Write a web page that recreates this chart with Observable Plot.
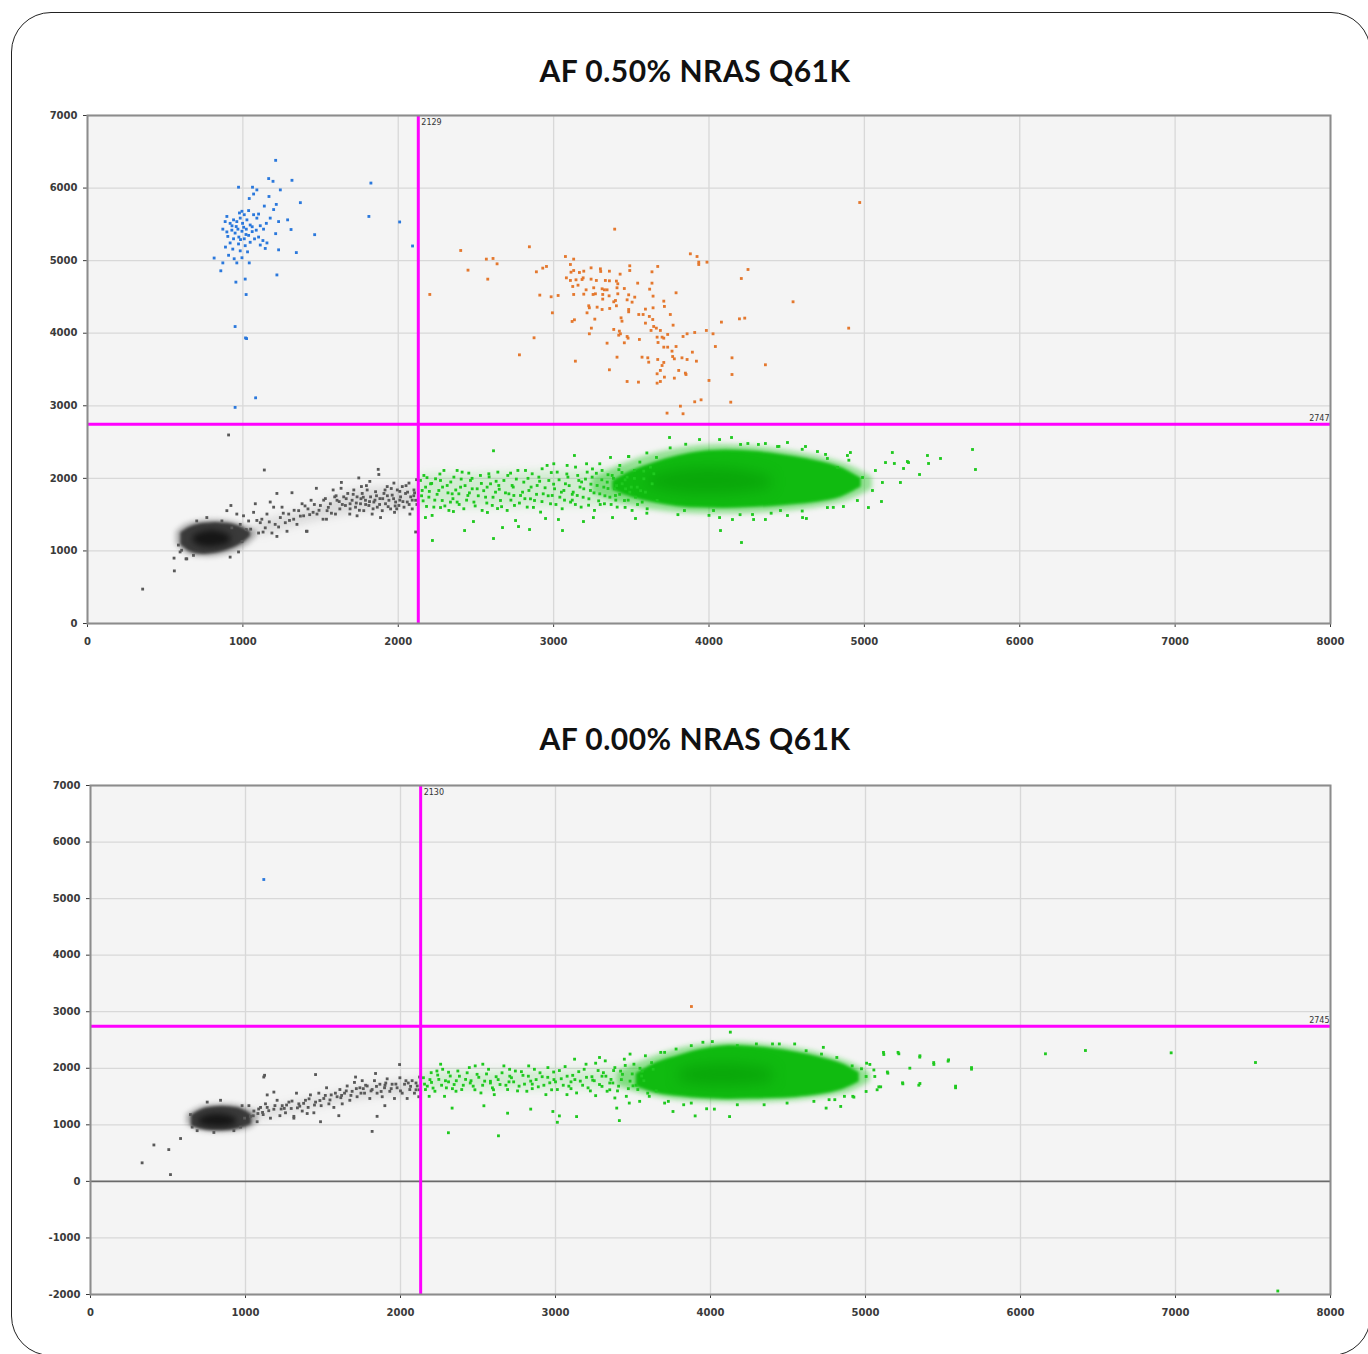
<!DOCTYPE html>
<html><head><meta charset="utf-8">
<script src="https://cdn.jsdelivr.net/npm/d3@7"></script>
<script src="https://cdn.jsdelivr.net/npm/@observablehq/plot@0.6"></script>
<style>
body{margin:0;background:#fff;overflow:hidden}
#page{position:relative;width:1368px;height:1354px;overflow:hidden;background:#fff}
.panel{position:absolute;left:11px;top:12px;width:1360px;height:1344px;border:1.3px solid #222;border-radius:40px;box-sizing:border-box}
.title{position:absolute;left:0;width:1390px;text-align:center;font:700 30px Lato,"Noto Sans",sans-serif;color:#111;letter-spacing:0.5px}
.chart{position:absolute;left:0}
</style></head>
<body><div id="page">
<div class="panel"></div>
<div class="title" style="top:52px">AF 0.50% NRAS Q61K</div>
<div id="c1" class="chart" style="top:100px"></div>
<div class="title" style="top:720px">AF 0.00% NRAS Q61K</div>
<div id="c2" class="chart" style="top:770px"></div>
</div>
<script>
// ---- tick values ----
const xTicks = [0,1000,2000,3000,4000,5000,6000,7000,8000];
const yTicks1 = [0,1000,2000,3000,4000,5000,6000,7000];
const yTicks2 = [-2000,-1000,0,1000,2000,3000,4000,5000,6000,7000];
const titles = ["AF 0.50% NRAS Q61K","AF 0.00% NRAS Q61K"];
// thresholds [x, y]
const thr1 = [2129, 2747];
const thr2 = [2130, 2745];

// ---- Plot 1 : dense cluster envelopes (x, low, high) ----
const p1GrayFringeX  = [570,620,680,750,820,890,960,1030,1090];
const p1GrayFringeLo = [1100,990,930,915,920,950,1000,1080,1200];
const p1GrayFringeHi = [1260,1350,1400,1420,1430,1420,1390,1340,1290];
const p1GrayCoreX  = [600,650,700,750,800,850,900,950,1000,1050];
const p1GrayCoreLo = [1080,1000,960,950,960,980,1010,1050,1110,1200];
const p1GrayCoreHi = [1250,1320,1360,1380,1390,1390,1380,1360,1320,1260];
const p1GrayInX  = [680,740,800,860,920];
const p1GrayInLo = [1120,1060,1050,1070,1110];
const p1GrayInHi = [1200,1260,1280,1260,1210];
const p1GrayTailX  = [1100,1400,1700,2000,2125];
const p1GrayTailLo = [1200,1380,1520,1580,1600];
const p1GrayTailHi = [1400,1560,1820,1880,1900];
const p1GreenFringeX  = [3250,3400,3550,3700,3850,4000,4150,4300,4450,4600,4750,4900,5050];
const p1GreenFringeLo = [1800,1680,1600,1550,1520,1510,1510,1520,1540,1570,1620,1700,1850];
const p1GreenFringeHi = [2000,2150,2280,2370,2430,2460,2460,2440,2400,2350,2280,2180,2020];
const p1GreenCoreX  = [3380,3500,3650,3800,3950,4100,4250,4400,4550,4700,4850,4980];
const p1GreenCoreLo = [1840,1740,1660,1610,1590,1585,1595,1610,1635,1670,1740,1880];
const p1GreenCoreHi = [1960,2100,2220,2310,2370,2390,2380,2350,2300,2240,2150,2000];
const p1GreenInX  = [3600,3800,4000,4200,4400];
const p1GreenInLo = [1900,1800,1780,1800,1870];
const p1GreenInHi = [2000,2120,2150,2120,2020];
const p1GreenTailX  = [2140,2400,2700,3000,3300,3500];
const p1GreenTailLo = [1600,1600,1600,1620,1620,1650];
const p1GreenTailHi = [2050,2060,2080,2100,2120,2150];

// ---- Plot 1 : droplets ----
const p1Blue = [[972,6012],[1062,6012],[1090,5975],[1069,5918],[1041,5856],[1166,6131],[1194,6093],[1241,5975],[1316,6107],[1211,6382],
[1168,5884],[1215,5775],[1370,5799],[1138,5752],[1198,5704],[994,5680],[978,5657],[1009,5633],[1037,5690],[897,5609],
[940,5562],[983,5586],[1026,5562],[1069,5633],[1101,5642],[1090,5586],[1176,5586],[1230,5538],[1288,5562],[886,5538],
[918,5514],[961,5538],[998,5514],[1047,5491],[1112,5481],[1151,5514],[1211,5372],[1310,5429],[1462,5358],[871,5434],
[897,5396],[929,5420],[968,5434],[994,5405],[1022,5434],[1060,5467],[1086,5420],[1133,5434],[903,5334],[940,5301],
[974,5325],[1009,5301],[1037,5348],[1101,5325],[1129,5277],[1155,5244],[918,5244],[972,5230],[1015,5206],[1047,5253],
[1112,5215],[1144,5168],[888,5187],[935,5159],[983,5135],[1030,5121],[1230,5149],[1344,5111],[908,5074],[944,5026],
[994,5040],[1041,4969],[815,5036],[871,4969],[858,4860],[961,4969],[1219,4803],[955,4704],[1015,4746],[1021,4533],
[950,4092],[1017,3935],[1024,3926],[1082,3110],[950,2978],[1824,6069],[1811,5609],[2009,5533],[2092,5202],
[957,5470],[1005,5460],[950,5380],[1020,5360],[985,5290],[1060,5400],[930,5480],[1075,5300]];

const p1Orange = [[3393,5434],[4970,5801],[2402,5140],[2203,4534],[2449,4869],[2567,5021],[2610,5030],[2636,4956],[2576,4745],[2844,5191],
[2889,4846],[2930,4897],[2954,4920],[2911,4525],[2984,4502],[3029,4520],[2992,4281],[2874,3937],[2780,3702],[3140,3615],
[3076,5057],[3129,5021],[3108,4947],[3129,4864],[3112,4841],[3166,4837],[3194,4855],[3241,4901],[3301,4887],[3303,4851],
[3359,4855],[3428,4814],[3490,4929],[3490,4864],[3633,4846],[3670,4920],[3082,4763],[3108,4727],[3144,4736],[3183,4740],
[3190,4763],[3241,4745],[3275,4727],[3333,4727],[3359,4722],[3404,4718],[3413,4681],[3541,4690],[3633,4690],[3123,4644],
[3157,4662],[3209,4598],[3258,4626],[3312,4612],[3327,4598],[3344,4598],[3408,4626],[3455,4616],[3129,4534],[3194,4538],
[3254,4534],[3269,4543],[3316,4534],[3357,4515],[3413,4543],[3483,4529],[3522,4497],[3618,4607],[3640,4511],[3788,4557],
[3316,4470],[3387,4433],[3398,4451],[3473,4460],[3505,4428],[3280,4359],[3226,4378],[3230,4350],[3312,4327],[3361,4341],
[3404,4378],[3483,4327],[3483,4295],[3591,4332],[3640,4350],[3709,4442],[3713,4369],[3215,4281],[3548,4258],[3576,4258],
[3616,4231],[3638,4189],[3751,4258],[3119,4162],[3134,4185],[3265,4194],[3434,4212],[3440,4166],[3591,4139],[3644,4093],
[3661,4070],[3769,4111],[3243,4070],[3387,4052],[3423,4029],[3430,3992],[3419,3973],[3627,4038],[3687,4038],[3698,3946],
[3709,3932],[3734,3983],[3833,3955],[3859,3992],[3908,4010],[3983,4038],[4026,3992],[4196,4198],[4230,4208],[4080,4153],
[4251,4878],[4208,4754],[4541,4433],[4899,4070],[3230,3992],[3473,3955],[3479,3932],[3552,3914],[3455,3868],[3344,3863],
[3666,3946],[3672,3872],[3709,3808],[3734,3808],[3762,3753],[3766,3679],[3788,3817],[3777,3647],[3826,3661],[3859,3638],
[3893,3739],[3919,3615],[4041,3817],[4148,3661],[4363,3565],[3408,3670],[3569,3670],[3606,3661],[3612,3601],[3670,3638],
[3709,3597],[3698,3555],[3687,3487],[3666,3441],[3713,3395],[3805,3487],[3848,3450],[3852,3431],[3777,3381],[3687,3335],
[3666,3312],[3359,3496],[3473,3335],[3546,3326],[4000,3349],[4148,3431],[3816,2995],[3833,2890],[3730,2899],[3908,3055],
[3949,3082],[4140,3050],[3880,5094],[3923,5057],[3934,4979],[3934,4947],[3987,4979]];

const p1Gray = [[983,1366],[1022,1294],[1037,1413],[1069,1532],[1101,1247],[1112,1389],[1144,1318],[1155,1508],[1176,1674],[1187,1247],
[1208,1366],[1219,1200],[1241,1460],[1252,1603],[1273,1389],[1284,1271],[1295,1508],[1316,1802],[1327,1437],[1348,1366],
[1359,1555],[1381,1650],[1391,1484],[1413,1271],[1419,1579],[1439,1698],[1452,1532],[1473,1863],[1477,1508],[1499,1626],
[1516,1437],[1531,1721],[1542,1555],[1563,1650],[1581,1840],[1596,1508],[1606,1698],[1624,1579],[1634,1944],[1649,1745],
[1660,1626],[1675,1792],[1688,1508],[1703,1698],[1714,1840],[1725,1603],[1735,1745],[1746,2006],[1757,1650],[1768,1792],
[1778,1555],[1789,1698],[1800,1840],[1811,1626],[1822,1745],[1832,1508],[1843,1674],[1854,1816],[1865,1603],[1875,2053],
[1882,1721],[1897,1555],[1908,1792],[1918,1650],[1929,1887],[1940,1698],[1951,1579],[1961,1769],[1972,1935],[1983,1674],
[1994,1840],[2004,1626],[2015,1745],[2026,1887],[2037,1603],[2047,1792],[2058,1674],[2069,1935],[2080,1745],[2090,1579],
[2101,1840],[2112,1698],[2118,1982],[2112,1261],[897,1555],[923,1626],[961,1508],[1004,1484],[1080,1650],[1198,1603],
[1219,1792],[1122,1437],[1409,1271],[1538,1437],[1591,1745],[1632,1863],[1735,1484],[1763,1887],[1817,1958],[1871,2124],
[1886,1460],[1976,1532],[2075,1508],[355,474],[559,725],[557,901],[908,2598],[1138,2115],[639,891],[596,986],
[585,1081],[606,1010],[634,891],[682,939],[929,1318],[994,1128],[972,986],[918,915],[768,1460],[703,1413],[865,1413],
[1760,1720],[1850,1700],[1930,1760],[2010,1700],[2060,1810],[1690,1650],[1980,1620],[2100,1760],[1790,1640],[1620,1680],
[1050,1300],[1090,1420],[1130,1260],[1170,1400],[1230,1330],[1260,1520],[1300,1420],[1330,1560],[1370,1480],[1400,1620],
[1430,1500],[1460,1640],[1490,1560],[1520,1700],[1550,1600],[1570,1520],[1600,1760],[1640,1640],[1665,1720],[1690,1580],
[1710,1780],[1730,1660],[1750,1560],[1775,1740],[1795,1900],[1815,1680],[1838,1580],[1860,1760],[1880,1640],[1900,1720],
[1915,1840],[1935,1610],[1955,1860],[1970,1720],[1990,1580],[2010,1820],[2030,1680],[2050,1900],[2070,1640],[2090,1700],
[2105,1800],[2120,1640]];

const p1Green = [[5696,2398],[5715,2122],[5490,2274],[5406,2315],[5413,2205],[5355,2053],[5277,2232],[5284,2218],[5252,2136],[5232,1943],
[5180,2356],[5136,2218],[5193,2205],[5116,1943],[5110,1681],[5026,1598],[5052,1833],[5071,2108],[4988,2012],[4955,1695],
[4891,2315],[4910,2356],[4827,2150],[4762,2274],[4698,2370],[4621,2439],[4505,2494],[4441,2439],[4363,2480],[4318,2467],
[4203,2467],[4145,2563],[4068,2535],[3939,2535],[4074,1281],[4209,1116],[4151,1433],[4068,1460],[4280,1502],[4363,1433],
[4287,1433],[4505,1488],[4602,1460],[4627,1447],[4460,1557],[4762,1598],[4865,1612],[3842,1557],[4029,1557],
[3746,2563],[2613,2380],[3134,2315],[3366,2288],[3482,2301],[3662,2288],
[2220,1144],[2613,1171],[2427,1281],[2671,1322],[2774,1336],[2845,1295],[3057,1281],[3031,1433],[3192,1405],[3256,1460],
[3379,1460],[3527,1447],[2484,1405],[2175,1460],[2272,1598],[2355,1543],[2755,1419],[2948,1447],[2574,1530],[2639,1584],
[2143,1971],[2154,1833],[2165,2040],[2197,1741],[2208,1925],[2229,1604],[2240,1994],[2261,1833],[2283,1695],[2294,2109],
[2315,1902],[2326,1558],[2347,1787],[2358,2017],[2379,1673],[2401,1879],[2411,2086],[2422,1581],[2448,1764],[2465,1971],
[2487,1673],[2508,1856],[2529,2040],[2540,1558],[2562,1741],[2594,1925],[2605,1627],[2626,1810],[2641,2086],[2658,1695],
[2680,1971],[2701,1558],[2712,1787],[2733,1902],[2748,1627],[2770,2109],[2787,1764],[2808,1948],[2830,1604],[2841,1833],
[2862,2063],[2877,1695],[2894,1902],[2916,1535],[2933,1787],[2958,2178],[2969,1971],[2980,1650],[3006,1856],[3023,2086],
[3040,1741],[3055,1581],[3076,1925],[3092,2017],[3109,1673],[3126,1810],[3141,2155],[3162,1971],[3177,1604],[3194,1856],
[3212,2201],[3227,1718],[3248,2017],[3263,1558],[3280,1902],[3297,1787],[3312,2109],[3327,1650],[3345,1948],[3362,1741],
[3377,2040],[3392,1856],[3409,1604],[3426,2178],[3441,1925],[3456,1695],[3473,2017],[3490,1810],[3505,1558],[3520,2109],
[3538,1879],[3555,2224],[3570,1673],[3581,1994],[3602,1581],[3623,2155],[2182,1613],[2218,1489],[2379,2109],[2454,2072],
[2583,2063],[2723,2072],[2819,2109],[2926,2132],[3001,2201],[3087,2178],[3216,2086],[3297,2201],[3484,2301],
[2176,1879],[2272,1971],[2336,1673],[2390,1787],[2476,1856],[2572,1879],[2647,1902],[2744,1764],[2851,1718],[2905,2017],
[2991,1764],[3066,1833],[3152,1764],[3237,1833],[3323,1879],[3398,1764],[3463,1856],[3527,1741],[3591,1810],[3634,1925],
[3666,1695],[3645,2063],
[3600,2350],[3750,2420],[3850,2470],[4250,2480],[4450,2440],[4600,2400],[4750,2330],[4900,2250],
[3600,1520],[3800,1500],[4000,1490],[4200,1500],[4400,1520],[4600,1550],[4800,1600],
[3350,2050],[3400,1700],[3420,2120],[3460,1600],[3300,1640],[3250,2130],[3180,1950],[3120,1700],
[2150,1760],[2160,1690],[2185,2010],[2200,1820],[2215,1930],[2235,1700],[2250,1780],[2268,2060],[2285,1880],[2300,1620],
[2320,1800],[2338,1950],[2352,1720],[2370,1840],[2392,1640],[2405,1990],[2430,1900],[2440,1700],[2458,1800],[2475,2000],
[2495,1620],[2515,1760],[2535,1930],[2550,1830],[2570,1660],[2585,2020],[2610,1740],[2630,1960],[2650,1850],[2665,1610],
[2690,1800],[2705,2040],[2725,1700],[2740,1880],[2760,1990],[2780,1660],[2800,1810],[2815,1720],[2835,2000],[2855,1880],
[2870,1600],[2890,1780],[2910,1960],[2925,1680],[2945,1870],[2965,1760],[2985,2080],[3000,1920],[3015,1640],[3035,1980],
[3050,1810],[3070,1700],[3085,2060],[3100,1900],[3120,1780],[3140,1640],[3155,2040],[3170,1880],[3190,1740],[3205,1990],
[3225,1630],[3240,1920],[3260,1800],[3275,2070],[3290,1690],[3310,1980],[3330,1760],[3350,1860],[3370,1640],[3385,2000],
[3405,1900],[3425,1780],[3440,2080],[3460,1980],[3480,1700],[3500,1880],[3520,2000],[3540,1640],[3560,1830],[3580,2100]];

// ---- Plot 2 : dense cluster envelopes ----
const p2GrayFringeX  = [620,680,740,800,860,920,980,1040,1080];
const p2GrayFringeLo = [1020,920,880,865,865,875,900,950,1050];
const p2GrayFringeHi = [1180,1280,1340,1360,1370,1360,1330,1270,1200];
const p2GrayCoreX  = [650,700,750,800,850,900,950,1000,1040];
const p2GrayCoreLo = [980,930,905,895,895,905,925,960,1010];
const p2GrayCoreHi = [1170,1250,1300,1320,1330,1320,1300,1250,1180];
const p2GrayInX  = [700,760,820,880,940];
const p2GrayInLo = [1020,975,960,970,1010];
const p2GrayInHi = [1110,1170,1190,1170,1120];
const p2GrayTailX  = [1050,1400,1700,2000,2125];
const p2GrayTailLo = [1080,1280,1440,1530,1550];
const p2GrayTailHi = [1250,1440,1640,1760,1790];
const p2GreenFringeX  = [3400,3550,3700,3850,4000,4150,4300,4450,4600,4750,4900,5030];
const p2GreenFringeLo = [1700,1560,1470,1420,1400,1390,1395,1410,1440,1490,1580,1760];
const p2GreenFringeHi = [1920,2120,2270,2380,2440,2460,2440,2400,2330,2230,2100,1920];
const p2GreenCoreX  = [3520,3650,3800,3950,4100,4250,4400,4550,4700,4850,4960];
const p2GreenCoreLo = [1680,1560,1500,1465,1450,1455,1465,1485,1530,1620,1760];
const p2GreenCoreHi = [1900,2100,2230,2340,2400,2390,2350,2290,2200,2080,1920];
const p2GreenInX  = [3800,3950,4100,4250,4400];
const p2GreenInLo = [1760,1700,1690,1710,1760];
const p2GreenInHi = [1980,2060,2080,2050,1980];
const p2GreenTailX  = [2140,2500,2900,3300,3550];
const p2GreenTailLo = [1620,1620,1630,1640,1620];
const p2GreenTailHi = [1930,1940,1960,1980,2050];

// ---- Plot 2 : droplets ----
const p2Blue = [[1118,5338]];
const p2Orange = [[3877,3092]];
const p2Gray = [[1022,1339],[1032,1150],[1054,1244],[1075,1055],[1097,1308],[1114,1181],[1129,1371],[1140,1529],[1161,1118],[1183,1276],
[1204,1434],[1222,1162],[1237,1339],[1258,1213],[1280,1402],[1295,1289],[1312,1150],[1329,1560],[1344,1371],[1366,1244],
[1387,1434],[1404,1308],[1419,1529],[1441,1213],[1452,1402],[1473,1560],[1488,1339],[1505,1466],[1523,1655],[1538,1371],
[1553,1529],[1570,1308],[1591,1497],[1609,1624],[1624,1371],[1639,1560],[1656,1687],[1673,1434],[1688,1592],[1703,1750],
[1720,1497],[1738,1655],[1753,1781],[1768,1560],[1785,1687],[1802,1466],[1817,1624],[1832,1781],[1849,1560],[1867,1718],
[1882,1497],[1897,1655],[1914,1813],[1931,1592],[1946,1718],[1961,1466],[1978,1655],[1996,1832],[2011,1560],[2026,1718],
[2043,1466],[2060,1624],[2075,1781],[2090,1560],[2108,1687],[2118,1497],[2123,1845],[1118,1845],[1123,1876],[1452,1889],
[1484,1055],[1817,884],[1994,2066],[1849,1150],[1602,1162],[1899,1339],[1312,1118],[1398,1200],[1710,1845],[1839,1908],
[1183,1579],[1140,1308],[333,328],[409,644],[505,562],[581,758],[516,120],
[645,1181],[656,960],[688,897],[796,865],[925,897],[968,960],[994,1118],[978,1339],[839,1434],[753,1402],
[1080,1200],[1250,1290],[1350,1330],[1620,1520],[1760,1640],[1900,1700],[2050,1740],[2100,1620],
[1050,1160],[1085,1280],[1110,1220],[1150,1250],[1190,1340],[1230,1280],[1265,1350],[1300,1420],[1335,1300],[1375,1380],
[1410,1460],[1445,1350],[1480,1430],[1515,1520],[1545,1440],[1580,1560],[1615,1480],[1650,1600],[1680,1520],[1715,1640],
[1745,1560],[1775,1700],[1810,1600],[1845,1680],[1875,1590],[1905,1740],[1940,1640],[1970,1720],[2000,1600],[2035,1780],
[2065,1680],[2100,1740],[2120,1620]];

const p2Green = [[2333,1296],[2538,1337],[2691,1206],[2840,1278],[2983,1236],[3025,1158],[3012,1045],[3136,1146],[3395,1296],[3412,1075],
[2309,860],[2632,806],[3758,1236],[3901,1158],[4123,1146],[3975,1284],[4025,1278],[4128,2639],[4012,2472],[4400,2430],
[4543,2430],[4728,2370],[5116,2281],[5210,2281],[5351,2221],[5440,2101],[5536,2149],[5684,2012],[5581,1684],[5351,1731],
[5239,1743],[5086,1672],[5098,1672],[5141,1934],[5054,1970],[5007,2090],[4918,1504],[4840,1325],[4746,1296],[4802,1445],
[6161,2256],[6419,2314],[6972,2273],[7516,2102],[7660,-1938],[5118,2244],[5215,2256],[5350,2197],[5441,2068],[5533,2126],
[5684,1984],[5581,1655],[5344,1701],[5241,1725],[5286,2002],[5144,1913],[5075,1620],[5028,2068],[4974,1991],[5004,1855],
[5060,1855],[5004,1590],[4925,1490],
[2148,1833],[2173,1684],[2198,1922],[2222,1594],[2247,1803],[2272,1982],[2296,1654],[2321,1863],[2346,1713],[2370,1952],
[2395,1624],[2420,1803],[2444,2012],[2469,1684],[2494,1893],[2519,1564],[2543,1773],[2568,1982],[2593,1654],[2617,1851],
[2642,1713],[2667,2042],[2691,1624],[2716,1833],[2741,1952],[2765,1684],[2790,1875],[2815,1594],[2840,1773],[2864,1982],
[2889,1672],[2914,1851],[2938,1534],[2963,1743],[2988,1934],[3012,1624],[3037,1815],[3062,2030],[3086,1684],[3111,1875],
[3136,1564],[3160,1773],[3185,1982],[3210,1654],[3235,1851],[3259,2090],[3284,1713],[3309,1922],[3333,1594],[3358,1803],
[3383,2012],[3407,1684],[3432,1893],[3457,1504],[3481,1773],[3506,2072],[3531,1624],[3556,1863],[3580,2221],[3605,1504],
[3630,1982],[2235,1952],[2358,1594],[2482,2042],[2605,1534],[2704,1982],[2827,2042],[2951,2012],[3074,1534],[3197,2072],
[3321,2131],[3444,2161],[3543,1415],[3476,1385],[3383,1475],[3259,1516],[2161,1624],[2185,1504],[2284,1504],[2259,2072],
[2531,2072],[3123,2161],[3284,2191],[3481,2251],[3679,2281],[3704,1385],[3827,1355],
[3704,2281],[3778,2340],[3876,2400],[3951,2460],[4173,2400],[4296,2430],[4444,2430],[4617,2310],[4716,2251],[4815,2191],
[4914,2042],[3728,1415],[3876,1385],[4173,1355],[4346,1355],[4494,1385],[4667,1415],[4765,1445],[4864,1504],
[2200,1750],[2310,1760],[2450,1740],[2580,1770],[2700,1760],[2850,1720],[2990,1800],[3100,1760],[3240,1790],[3370,1740],
[3420,1950],[3350,1620],[3300,1860],[3500,1690],[3560,1950],[3650,1600],
[2155,1720],[2190,1800],[2210,1650],[2240,1880],[2265,1700],[2290,1780],[2310,1930],[2335,1640],[2360,1780],[2380,1860],
[2405,1700],[2430,1920],[2455,1780],[2480,1620],[2505,1840],[2530,1700],[2555,1900],[2580,1740],[2600,1620],[2630,1800],
[2655,1920],[2680,1700],[2705,1860],[2730,1760],[2755,1600],[2780,1940],[2800,1720],[2825,1860],[2850,1640],[2875,1800],
[2900,1920],[2925,1700],[2950,1840],[2975,1620],[3000,1760],[3025,1960],[3050,1700],[3075,1860],[3100,1640],[3125,1800],
[3150,1940],[3175,1700],[3200,1840],[3225,1600],[3250,1780],[3275,1960],[3300,1680],[3325,1860],[3350,1740],[3375,1960],
[3400,1600],[3425,1800],[3450,2050],[3470,1640],[3495,1900],[3520,1700],[3545,2000],[3570,1780],[3595,1560],[3620,2100]];

const clusterColors = {gray:"#595959", grayCore:"#3a3a3a", grayIn:"#0d0d0d", green:"#1fc91f", greenCore:"#10bb10", greenIn:"#008a00", blue:"#2a78dc", orange:"#e4782e"};

function env(xs, lo, hi){ return xs.map((x,i)=>({x, lo:lo[i], hi:hi[i]})); }
const dotOpts = (color) => ({x: d=>d[0], y: d=>d[1], symbol:"square", r:1.6, fill:color, stroke:"none"});
const areaOpts = (fill, op, cls) => ({x:"x", y1:"lo", y2:"hi", fill, fillOpacity:op, curve:"catmull-rom", ariaDescription:cls});

function makePlot(cfg){
  const marks = [
    Plot.frame({fill:"#f4f4f4", stroke:"none"}),
    Plot.ruleX(xTicks, {stroke:"#d8d8d8", strokeWidth:1.3}),
    Plot.ruleY(cfg.yTicks, {stroke:"#d8d8d8", strokeWidth:1.3}),
  ];
  if (cfg.yDomain[0] < 0) marks.push(Plot.ruleY([0], {stroke:"#6a6a6a", strokeWidth:1.6}));
  marks.push(
    Plot.areaY(env(...cfg.grayTail), areaOpts(clusterColors.gray, 0.16, "haze")),
    Plot.areaY(env(...cfg.greenTail), areaOpts(clusterColors.green, 0.16, "haze")),
    Plot.areaY(env(...cfg.grayFringe), areaOpts(clusterColors.gray, 0.45, "fringe")),
    Plot.areaY(env(...cfg.greenFringe), areaOpts(clusterColors.green, 0.45, "fringe")),
    Plot.areaY(env(...cfg.grayCore), areaOpts(clusterColors.grayCore, 1, "core")),
    Plot.areaY(env(...cfg.grayIn), areaOpts(clusterColors.grayIn, 0.8, "inner")),
    Plot.areaY(env(...cfg.greenCore), areaOpts(clusterColors.greenCore, 1, "core")),
    Plot.areaY(env(...cfg.greenIn), areaOpts(clusterColors.greenIn, 0.4, "innerG")),
    Plot.dot(cfg.gray, dotOpts(clusterColors.gray)),
    Plot.dot(cfg.green, dotOpts(clusterColors.green)),
    Plot.dot(cfg.blue, dotOpts(clusterColors.blue)),
    Plot.dot(cfg.orange, dotOpts(clusterColors.orange)),
    Plot.ruleX([cfg.thr[0]], {stroke:"#ff00ff", strokeWidth:3}),
    Plot.ruleY([cfg.thr[1]], {stroke:"#ff00ff", strokeWidth:3}),
    Plot.text([cfg.thr[0]], {x:d=>d, y:()=>cfg.yDomain[1], text:d=>String(d), textAnchor:"start", dx:3, dy:7, fontSize:8, fontWeight:"normal", fill:"#333"}),
    Plot.text([cfg.thr[1]], {x:()=>xTicks[xTicks.length-1], y:d=>d, text:d=>String(d), textAnchor:"end", dx:-1, dy:-6, fontSize:8, fontWeight:"normal", fill:"#333"}),
    Plot.frame({stroke:"#8c8c8c", strokeWidth:2})
  );
  return Plot.plot({
    width:1368, height:cfg.height,
    marginLeft:cfg.ml, marginRight:38, marginTop:15, marginBottom:cfg.height-15-cfg.ph,
    x:{domain:[0,8000], ticks:xTicks, tickFormat:d=>String(d), tickSize:4, tickPadding:10, label:null},
    y:{domain:cfg.yDomain, ticks:cfg.yTicks, tickFormat:d=>String(d), tickSize:4, tickPadding:6, label:null},
    style:{fontFamily:"'DejaVu Sans', sans-serif", fontSize:"10px", fontWeight:"bold", color:"#3a3a3a", background:"transparent", overflow:"visible"},
    marks
  });
}

const svg1 = makePlot({height:560, ph:508, ml:87, yDomain:[0,7000], yTicks:yTicks1, thr:thr1,
  grayFringe:[p1GrayFringeX,p1GrayFringeLo,p1GrayFringeHi], grayCore:[p1GrayCoreX,p1GrayCoreLo,p1GrayCoreHi], grayIn:[p1GrayInX,p1GrayInLo,p1GrayInHi], grayTail:[p1GrayTailX,p1GrayTailLo,p1GrayTailHi],
  greenFringe:[p1GreenFringeX,p1GreenFringeLo,p1GreenFringeHi], greenCore:[p1GreenCoreX,p1GreenCoreLo,p1GreenCoreHi], greenIn:[p1GreenInX,p1GreenInLo,p1GreenInHi], greenTail:[p1GreenTailX,p1GreenTailLo,p1GreenTailHi],
  gray:p1Gray, green:p1Green, blue:p1Blue, orange:p1Orange});
const svg2 = makePlot({height:562, ph:509, ml:90, yDomain:[-2000,7000], yTicks:yTicks2, thr:thr2,
  grayFringe:[p2GrayFringeX,p2GrayFringeLo,p2GrayFringeHi], grayCore:[p2GrayCoreX,p2GrayCoreLo,p2GrayCoreHi], grayIn:[p2GrayInX,p2GrayInLo,p2GrayInHi], grayTail:[p2GrayTailX,p2GrayTailLo,p2GrayTailHi],
  greenFringe:[p2GreenFringeX,p2GreenFringeLo,p2GreenFringeHi], greenCore:[p2GreenCoreX,p2GreenCoreLo,p2GreenCoreHi], greenIn:[p2GreenInX,p2GreenInLo,p2GreenInHi], greenTail:[p2GreenTailX,p2GreenTailLo,p2GreenTailHi],
  gray:p2Gray, green:p2Green, blue:p2Blue, orange:p2Orange});

const blurs = {haze:"blur(4px)", fringe:"blur(2.5px)", core:"blur(1.6px)", inner:"blur(3px)", innerG:"blur(7px)"};
for (const s of [svg1, svg2]) {
  for (const [k, f] of Object.entries(blurs)) {
    s.querySelectorAll(`g[aria-description="${k}"] path`).forEach(p => p.style.filter = f);
  }
}
document.getElementById("c1").appendChild(svg1);
document.getElementById("c2").appendChild(svg2);
</script>
</body></html>
